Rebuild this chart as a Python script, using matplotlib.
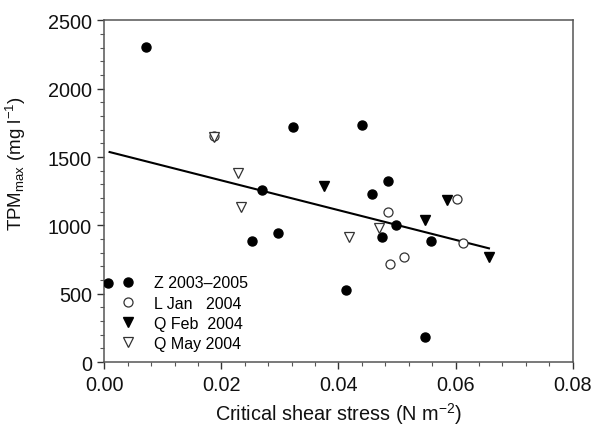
import numpy as np
import matplotlib
matplotlib.use("Agg")
import matplotlib.pyplot as plt
from matplotlib.ticker import MultipleLocator

plt.rcParams['font.family'] = ['Liberation Sans', 'DejaVu Sans']
plt.rcParams['mathtext.fontset'] = 'custom'
plt.rcParams['mathtext.rm'] = 'Liberation Sans'
plt.rcParams['mathtext.it'] = 'Liberation Sans:italic'

# data
z_x = [0.0007, 0.0072, 0.0253, 0.0270, 0.0296, 0.0323, 0.0413, 0.0440,
       0.0458, 0.0475, 0.0485, 0.0498, 0.0548, 0.0558]
z_y = [576, 2304, 883, 1259, 944, 1723, 529, 1737, 1230, 913, 1327, 1003, 181, 888]

l_x = [0.0188, 0.0484, 0.0488, 0.0512, 0.0603, 0.0613]
l_y = [1657, 1096, 715, 771, 1193, 871]

qf_x = [0.0375, 0.0548, 0.0585, 0.0657]
qf_y = [1288, 1042, 1184, 771]

qm_x = [0.0188, 0.0229, 0.0233, 0.0418, 0.0470]
qm_y = [1650, 1384, 1137, 915, 981]

fit_x = [0.0009, 0.0657]
fit_y = [1537, 832]

fig = plt.figure(figsize=(5.94, 4.39), dpi=100)
ax = fig.add_axes([0.1756, 0.1731, 0.7885, 0.778])

ax.plot(fit_x, fit_y, color='black', lw=1.5, zorder=1)

ax.plot(z_x, z_y, 'o', ls='none', ms=6.5, mfc='black', mec='black',
        label='Z 2003\u20132005', zorder=3)
ax.plot(l_x, l_y, 'o', ls='none', ms=6.5, mfc='white', mec='#333333', mew=0.9,
        label='L Jan   2004', zorder=3)
ax.plot(qf_x, qf_y, 'v', ls='none', ms=7, mfc='black', mec='black',
        label='Q Feb  2004', zorder=3)
ax.plot(qm_x, qm_y, 'v', ls='none', ms=6.5, mfc='white', mec='#333333', mew=0.9,
        label='Q May 2004', zorder=4)

ax.set_xlim(0, 0.08)
ax.set_ylim(0, 2500)
ax.xaxis.set_major_locator(MultipleLocator(0.02))
ax.xaxis.set_minor_locator(MultipleLocator(0.004))
ax.yaxis.set_major_locator(MultipleLocator(500))
ax.yaxis.set_minor_locator(MultipleLocator(100))
ax.xaxis.set_major_formatter(matplotlib.ticker.FormatStrFormatter('%.2f'))

ax.tick_params(which='major', direction='out', length=5, width=1,
               labelsize=14.3, colors='#333333', labelcolor='#111111', pad=4)
ax.tick_params(which='minor', direction='out', length=3, width=0.8, colors='#555555')
for s in ax.spines.values():
    s.set_color('#555555')
    s.set_linewidth(1.1)

ax.set_xlabel('Critical shear stress (N m$^{-2}$)', fontsize=14.3, labelpad=5,
              color='#111111')
ax.set_ylabel('TPM$_{\\mathrm{max}}$ (mg l$^{-1}$)', fontsize=13.5,
              color='#111111')
ax.yaxis.set_label_coords(-0.163, 0.585)

ax.legend(loc='lower left', bbox_to_anchor=(0.01, 0.0), frameon=False,
          fontsize=11.5, handlelength=1.0, handletextpad=1.1,
          labelspacing=0.32, borderaxespad=0.3)

fig.savefig('out.png', dpi=100)
